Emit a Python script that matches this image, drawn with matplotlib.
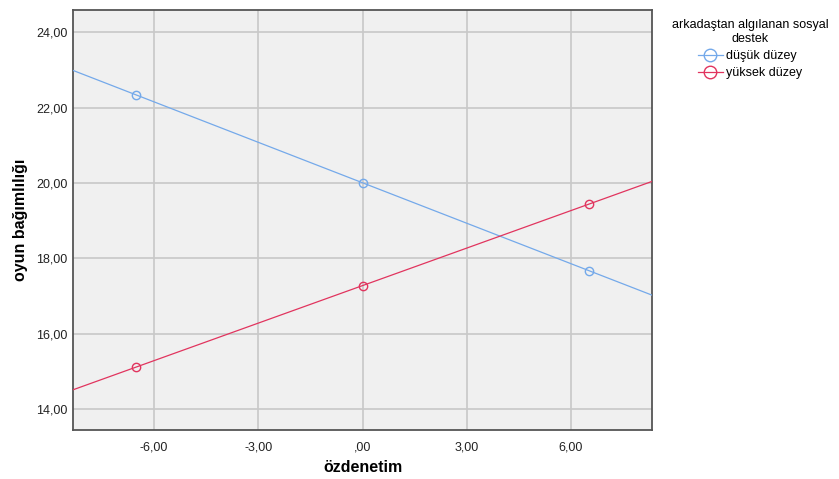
import numpy as np
import matplotlib.pyplot as plt
from matplotlib.ticker import FuncFormatter

plt.rcParams['font.family'] = ['Liberation Sans', 'DejaVu Sans']

# özdenetim values (mean -/+ 1 SD) and predicted oyun bağımlılığı
x_vals = [-6.52, 0.0, 6.52]
dusuk = [22.34, 20.00, 17.67]
yuksek = [15.11, 17.27, 19.44]
groups = ['düşük düzey', 'yüksek düzey']
colors = ['#74a9ea', '#e1345e']

xlim = (-8.33, 8.33)
ylim = (13.44, 24.59)
xticks = [-6, -3, 0, 3, 6]
yticks = [14, 16, 18, 20, 22, 24]


def comma(v, pos):
    s = ('%.2f' % v).replace('.', ',')
    return ',00' if abs(v) < 1e-9 else s


fig = plt.figure(figsize=(8.39, 4.79), dpi=100)
ax = fig.add_axes([73 / 839, 49 / 479, 579 / 839, 420 / 479])
ax.set_facecolor('#f0f0f0')

xs = np.array(xlim)
for ys, c, lab in zip([dusuk, yuksek], colors, groups):
    k, b = np.polyfit(x_vals, ys, 1)
    ax.plot(xs, k * xs + b, color=c, lw=0.9, zorder=3)
    ax.plot(x_vals, ys, 'o', mfc='none', mec=c, ms=6, mew=1.0, zorder=4)
    ax.plot([], [], color=c, lw=0.9, marker='o', mfc='none', mec=c,
            ms=9, mew=1.0, label=lab)

ax.set_xlim(*xlim)
ax.set_ylim(*ylim)
ax.set_xticks(xticks)
ax.set_yticks(yticks)
ax.xaxis.set_major_formatter(FuncFormatter(comma))
ax.yaxis.set_major_formatter(FuncFormatter(comma))
ax.tick_params(length=0, labelsize=9, colors='#222222')
ax.tick_params(axis='x', pad=8)
ax.tick_params(axis='y', pad=4)
ax.grid(True, color='#c8c8c8', lw=1.2)
ax.set_axisbelow(True)
for s in ax.spines.values():
    s.set_color('#555555')
    s.set_linewidth(1.3)

ax.set_xlabel('özdenetim', fontsize=11.5, fontweight='bold', labelpad=5)
ax.set_ylabel('oyun bağımlılığı', fontsize=11.5, fontweight='bold', labelpad=6)

leg = fig.legend(loc='upper center', bbox_to_anchor=(750 / 839, 1 - 10 / 479),
                 title='arkadaştan algılanan sosyal\ndestek', fontsize=9,
                 title_fontsize=9, frameon=False, handlelength=2.0,
                 handletextpad=0.3, labelspacing=0.4, borderpad=0.2)
leg.get_title().set_multialignment('center')
leg.get_title().set_linespacing(1.3)

fig.savefig('out.png', dpi=100)
